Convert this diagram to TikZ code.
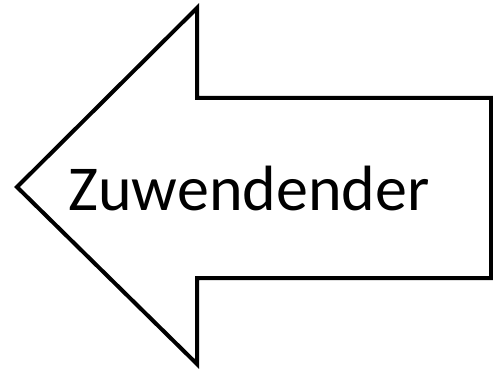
\documentclass[tikz,border=0pt]{standalone}
\usepackage{fontspec}
\setmainfont{Carlito}

\begin{document}
\begin{tikzpicture}[x=1pt,y=-1pt]
    \useasboundingbox (0,0) rectangle (493,369);
    \coordinate (T) at (17,187);
    \coordinate (H1) at (197,8);
    \coordinate (S1) at (197,98);
    \coordinate (R1) at (491,98);
    \coordinate (R2) at (491,278);
    \coordinate (S2) at (197,278);
    \coordinate (H2) at (197,364);

    \draw[line width=4pt, line join=miter] (T) -- (H1) -- (S1) -- (R1) -- (R2) -- (S2) -- (H2) -- cycle;
    \node[anchor=base, inner sep=0pt, font=\fontsize{64}{70}\selectfont] (label) at (249,210) {Zuwendender};

\end{tikzpicture}
\end{document}
